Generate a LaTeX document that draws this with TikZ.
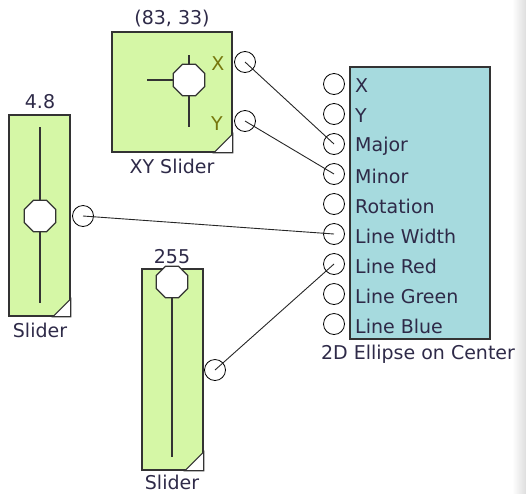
\documentclass[tikz,border=0pt]{standalone}
\usepackage{fontspec}
\setmainfont{DejaVu Sans}
\usetikzlibrary{shapes.geometric}
\definecolor{sgreen}{HTML}{D5F7A6}
\definecolor{steal}{HTML}{A6DADE}
\definecolor{edgec}{HTML}{333333}
\definecolor{lbl}{HTML}{2E2A48}
\definecolor{olivec}{HTML}{76760C}
\begin{document}
\begin{tikzpicture}[x=1pt,y=-1pt,
  txt/.style={font=\fontsize{19}{22}\selectfont, text=lbl, inner sep=0pt},
  box/.style={draw=edgec, line width=1.6pt, inner sep=0pt},
  knob/.style={regular polygon, regular polygon sides=8, minimum size=34pt, draw=edgec, fill=white, line width=1.2pt, inner sep=0pt},
  port/.style={circle, draw=black, minimum size=21pt, inner sep=0pt, line width=0.8pt},
  track/.style={draw=edgec, line width=1.6pt},
  wire/.style={draw=black!85, line width=0.9pt},
  corner/.style={fill=white, draw=edgec, line width=1.2pt}
]
\useasboundingbox (0,0) rectangle (526,493);
\shade[left color=white, right color=black!13] (512,0) rectangle (526,493);

% XY slider
\node[box, fill=sgreen, minimum width=120pt, minimum height=120pt] (xy) at (172,92) {};
\filldraw[corner] (xy.south east) -- ++(-19,0) -- ++(19,-19) -- cycle;
\draw[track] (147,80) -- (189,80);
\draw[track] (189,55) -- (189,127);
\node[knob] (xyk) at (189,80) {};
\node[txt] (xyv) at (172,19) {(83, 33)};
\node[txt] (xyn) at (172,166) {XY Slider};
\node[txt, text=olivec] (xyXl) at (218,64) {X};
\node[txt, text=olivec] (xyYl) at (217,124) {Y};
\node[port] (xyX) at (245,62) {};
\node[port] (xyY) at (245,121) {};

% Slider 1
\node[box, fill=sgreen, minimum width=61pt, minimum height=201pt] (s1) at (39.5,215.5) {};
\filldraw[corner] (s1.south east) -- ++(-18,0) -- ++(18,-18) -- cycle;
\draw[track] (40,127) -- (40,303);
\node[knob] (s1k) at (40,216) {};
\node[txt] (s1v) at (40,102) {4.8};
\node[txt] (s1n) at (40,330) {Slider};
\node[port] (s1p) at (83,216) {};

% Slider 2
\node[box, fill=sgreen, minimum width=61pt, minimum height=201pt] (s2) at (172.5,369.5) {};
\filldraw[corner] (s2.south east) -- ++(-19,0) -- ++(19,-19) -- cycle;
\draw[track] (172,282) -- (172,457);
\node[knob] (s2k) at (172,282) {};
\node[txt] (s2v) at (172,257) {255};
\node[txt] (s2n) at (172,482) {Slider};
\node[port] (s2p) at (215,370) {};

% Ellipse block
\node[box, fill=steal, minimum width=140pt, minimum height=272pt] (ell) at (420,203) {};
\node[txt] (elln) at (418,354) {2D Ellipse on Center};
\foreach \i/\t/\n in {0/X/pX,1/Y/pY,2/Major/pMaj,3/Minor/pMin,4/Rotation/pRot,5/Line Width/pLW,6/Line Red/pLR,7/Line Green/pLG,8/Line Blue/pLB}{
  \node[port] (\n) at (334,84+30*\i) {};
  \node[txt, anchor=west] (\n l) at (355,86+30*\i) {\t};
}

% Wires
\draw[wire] (xyX.center) -- (pMaj.center);
\draw[wire] (xyY.center) -- (pMin.center);
\draw[wire] (s1p.center) -- (pLW.center);
\draw[wire] (s2p.center) -- (pLR.center);
\end{tikzpicture}
\end{document}
